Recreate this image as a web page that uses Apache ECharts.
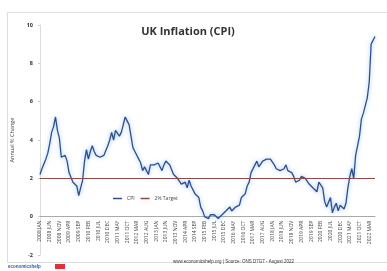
<!DOCTYPE html>
<html>
<head>
<meta charset="utf-8">
<script src="https://cdn.jsdelivr.net/npm/echarts@6/dist/echarts.min.js"></script>
<style>
  html, body { margin: 0; padding: 0; background: #fff; }
  #chart { width: 387px; height: 271px; }
</style>
</head>
<body>
<div id="chart"></div>
<script>
  // UK CPI annual rate, monthly, 2008 JAN .. 2022 JUN (ONS D7G7)
  var years = ['2008','2009','2010','2011','2012','2013','2014','2015','2016','2017','2018','2019','2020','2021','2022'];
  var monthNames = ['JAN','FEB','MAR','APR','MAY','JUN','JUL','AUG','SEP','OCT','NOV','DEC'];
  var cpi2008 = [2.2,2.5,2.5,3.0,3.3,3.8,4.4,4.7,5.2,4.5,4.1,3.1];
  var cpi2009 = [3.0,3.2,2.9,2.3,2.2,1.8,1.8,1.6,1.1,1.5,1.9,2.9];
  var cpi2010 = [3.5,3.0,3.4,3.7,3.4,3.2,3.1,3.1,3.1,3.2,3.3,3.7];
  var cpi2011 = [4.0,4.4,4.0,4.5,4.5,4.2,4.4,4.5,5.2,5.0,4.8,4.2];
  var cpi2012 = [3.6,3.4,3.5,3.0,2.8,2.4,2.6,2.5,2.2,2.7,2.7,2.7];
  var cpi2013 = [2.7,2.8,2.8,2.4,2.7,2.9,2.8,2.7,2.7,2.2,2.1,2.0];
  var cpi2014 = [1.9,1.7,1.6,1.8,1.5,1.9,1.6,1.5,1.2,1.3,1.0,0.5];
  var cpi2015 = [0.3,0.0,0.0,-0.1,0.1,0.0,0.1,0.0,-0.1,-0.1,0.1,0.2];
  var cpi2016 = [0.3,0.3,0.5,0.3,0.3,0.5,0.6,0.6,1.0,0.9,1.2,1.6];
  var cpi2017 = [1.8,2.3,2.3,2.7,2.9,2.6,2.6,2.9,3.0,3.0,3.1,3.0];
  var cpi2018 = [3.0,2.7,2.5,2.4,2.4,2.4,2.5,2.7,2.4,2.4,2.3,2.1];
  var cpi2019 = [1.8,1.9,1.9,2.1,2.0,2.0,2.1,1.7,1.7,1.5,1.5,1.3];
  var cpi2020 = [1.8,1.7,1.5,0.8,0.5,0.6,1.0,0.2,0.5,0.7,0.3,0.6];
  var cpi2021 = [0.7,0.4,0.7,1.5,2.1,2.5,2.0,3.2,3.1,4.2,5.1,5.4];
  var cpi2022 = [5.5,6.2,7.0,9.0,9.1,9.4];
  var target = 2;

  var cpiByYear = [cpi2008,cpi2009,cpi2010,cpi2011,cpi2012,cpi2013,cpi2014,cpi2015,
                   cpi2016,cpi2017,cpi2018,cpi2019,cpi2020,cpi2021,cpi2022];
  var categories = [];
  var cpiData = [];
  cpiByYear.forEach(function (arr, yi) {
    arr.forEach(function (v, mi) {
      categories.push(years[yi] + ' ' + monthNames[mi]);
      cpiData.push(v);
    });
  });

  // plot box: y=10 at top 25px, y=-2 at 255px -> x axis sits at value 0
  var gridTop = 25, gridBottom = 16, yMin = -2, yMax = 10;
  var plotH = 271 - gridTop - gridBottom;
  var zeroOffset = -plotH * (0 - yMin) / (yMax - yMin);

  var myChart = echarts.init(document.getElementById('chart'));
  var option = {
    backgroundColor: '#fff',
    animation: false,
    textStyle: { fontFamily: 'Open Sans, DejaVu Sans, sans-serif' },
    title: {
      text: 'UK Inflation (CPI)',
      left: 183,
      textAlign: 'center',
      top: 21,
      textStyle: { fontSize: 11, fontWeight: 'bold', color: '#333' }
    },
    legend: {
      data: ['CPI', '2% Target'],
      left: 108,
      top: 191,
      icon: 'rect',
      itemWidth: 9,
      itemHeight: 1.5,
      itemGap: 6,
      textStyle: { fontSize: 5, color: '#444' }
    },
    grid: {
      left: 40, right: 12, top: gridTop, bottom: gridBottom,
      containLabel: false,
      outerBoundsMode: 'none'
    },
    xAxis: {
      type: 'category',
      data: categories,
      boundaryGap: false,
      offset: zeroOffset,
      axisLine: { onZero: false, lineStyle: { color: '#aaa', width: 1 } },
      axisTick: { show: false },
      axisLabel: {
        interval: 4,
        rotate: 90,
        fontSize: 5,
        color: '#444',
        margin: 4
      },
      splitLine: { show: false }
    },
    yAxis: {
      type: 'value',
      min: yMin,
      max: yMax,
      interval: 2,
      name: 'Annual % Change',
      nameLocation: 'middle',
      nameGap: 14,
      nameTextStyle: { fontSize: 5.5, color: '#444' },
      axisLine: { show: true, lineStyle: { color: '#ddd' } },
      axisTick: { show: true, length: 2, lineStyle: { color: '#ccc' } },
      axisLabel: { fontSize: 5.5, color: '#333', fontWeight: 'bold', margin: 7 },
      splitLine: { show: false }
    },
    graphic: [
      {
        type: 'rect',
        shape: { x: 7.5, y: 12.5, width: 390, height: 250 },
        style: { fill: 'none', stroke: '#ddd', lineWidth: 1 },
        z: -1
      },
      {
        type: 'text',
        left: 173,
        top: 259,
        style: {
          text: 'www.economicshelp.org | Source: ONS D7G7 - August 2022',
          fontSize: 4.5,
          fill: '#333'
        }
      },
      {
        type: 'text',
        left: 8,
        top: 264,
        style: { text: 'economicshelp', fontSize: 4.5, fill: '#2a5db0', fontWeight: 'bold' }
      },
      {
        type: 'rect',
        shape: { x: 55, y: 264, width: 10, height: 5 },
        style: { fill: '#e0303a' }
      }
    ],
    series: [
      {
        name: 'CPI',
        type: 'line',
        data: cpiData,
        showSymbol: false,
        color: '#2f4e8c',
        lineStyle: {
          width: 1.3,
          color: '#2f4e8c',
          shadowColor: 'rgba(90,160,235,0.7)',
          shadowBlur: 4
        },
        z: 3
      },
      {
        name: '2% Target',
        type: 'line',
        data: [],
        color: '#8e4a48',
        markLine: {
          silent: true,
          symbol: 'none',
          label: { show: false },
          lineStyle: { color: '#8e4a48', type: 'solid', width: 1 },
          data: [{ yAxis: target }]
        },
        z: 2
      }
    ]
  };
  myChart.setOption(option);
  window.addEventListener('resize', function () { myChart.resize(); });
</script>
</body>
</html>
